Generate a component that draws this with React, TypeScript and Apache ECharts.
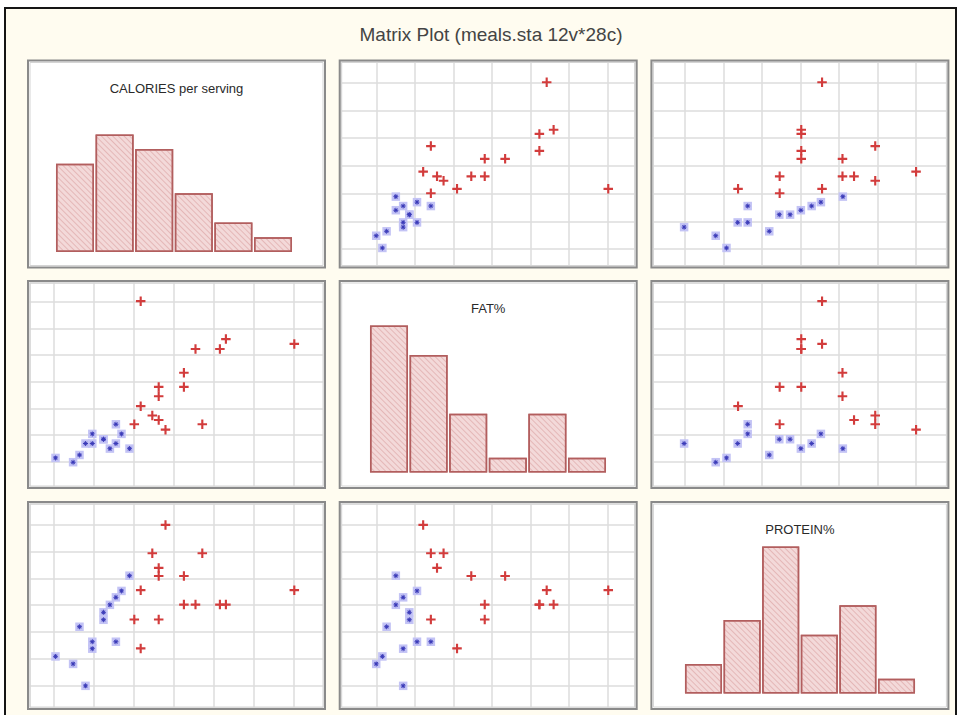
import React, { useEffect, useRef } from "react";
import * as echarts from "echarts";

const chartTitle = "Matrix Plot (meals.sta 12v*28c)";
const variableNames = ["CALORIES per serving", "FAT%", "PROTEIN%"];

// 28 cases, values (in axis grid units). Group "r" = red crosses, "b" = blue squares.
const calories = [3.17, 5.3, 4.54, 5.15, 7.01, 4.25, 3.62, 4.25, 3.62, 3.17, 3.46, 3.62, 3.01, 3.79, 4.71,
  2.89, 2.69, 2.55, 2.4, 2.24, 2.24, 2.55, 1.96, 1.96, 1.64, 1.79, 1.48, 1.04];
const fat = [7.02, 5.6, 5.23, 5.23, 5.42, 4.34, 3.81, 3.81, 3.46, 3.09, 2.74, 2.57, 2.41, 2.21, 2.41,
  1.5, 2.05, 1.69, 1.5, 1.85, 1.85, 2.41, 1.69, 2.05, 1.26, 1.69, 0.99, 1.15];
const protein = [4.56, 4.02, 4.02, 4.02, 4.56, 5.09, 3.46, 4.02, 5.09, 2.38, 5.94, 5.39, 3.46, 7.0, 5.94,
  5.1, 4.53, 4.29, 4.01, 3.73, 3.45, 2.63, 2.37, 2.63, 3.19, 0.98, 1.8, 2.08];
const groups = ["r", "r", "r", "r", "r", "r", "r", "r", "r", "r", "r", "r", "r", "r", "r",
  "b", "b", "b", "b", "b", "b", "b", "b", "b", "b", "b", "b", "b"];

// histogram counts (6 bins each)
const binLabels = ["1", "2", "3", "4", "5", "6"];
const calorieCounts = [6, 8, 7, 4, 2, 1];
const fatCounts = [10, 8, 4, 1, 4, 1];
const proteinCounts = [2, 5, 10, 4, 6, 1];

// axis extents per variable (grid units)
const axisRanges = [
  [0.39, 7.74],
  [0.08, 7.72],
  [0.17, 7.8],
];

// layout
const colLeft = [29.5, 341.2, 652.9];
const rowTop = [62, 282.5, 503.5];
const plotW = 294;
const plotH = 204;
const histLeft = [55.2, 369.2, 684.2];
const histWidth = [237.6, 237.6, 231.6];
const histBottomOffset = 190;
const histMax = 10;
const histUnit = 14.7;

const plusPath = "path://M3.1,0H4.9V3.1H8V4.9H4.9V8H3.1V4.9H0V3.1H3.1Z";
const starPath = "path://M3.3,0H4.7V2.3L6.3,0.7L7.3,1.7L5.7,3.3H8V4.7H5.7L7.3,6.3L6.3,7.3L4.7,5.7V8H3.3V5.7L1.7,7.3L0.7,6.3L2.3,4.7H0V3.3H2.3L0.7,1.7L1.7,0.7L3.3,2.3Z";

export default function App() {
  const ref = useRef<HTMLDivElement>(null);

  useEffect(() => {
    if (!ref.current) return;
    const chart = echarts.init(ref.current, null, { renderer: "svg" });
    const vars = [calories, fat, protein];
    const counts = [calorieCounts, fatCounts, proteinCounts];
    const grid: any[] = [];
    const xAxis: any[] = [];
    const yAxis: any[] = [];
    const series: any[] = [];
    const graphic: any[] = [];

    graphic.push({
      type: "rect",
      z: -20,
      shape: { x: 5, y: 8, width: 951, height: 730 },
      style: { fill: "#fffcf0", stroke: "#151515", lineWidth: 2 },
    });
    graphic.push({
      type: "text",
      z: 50,
      x: 491,
      y: 34,
      style: {
        text: chartTitle,
        fontSize: 19,
        fontFamily: "Liberation Sans, Arial, sans-serif",
        fill: "#444444",
        align: "center",
        verticalAlign: "middle",
      },
    });

    const valueAxis = (range: number[], idx: number) => ({
      type: "value",
      gridIndex: idx,
      min: range[0],
      max: range[1],
      splitNumber: 7,
      axisLine: { show: false },
      axisTick: { show: false },
      axisLabel: { show: false },
      splitLine: { show: true, lineStyle: { color: "#dcdcdc", width: 1.5 } },
    });

    for (let r = 0; r < 3; r++) {
      for (let c = 0; c < 3; c++) {
        const idx = r * 3 + c;
        const bx = colLeft[c] - 1.5;
        const by = rowTop[r] - 1.5;
        graphic.push({
          type: "rect",
          z: -10,
          shape: { x: bx, y: by, width: plotW + 3, height: plotH + 3 },
          style: { fill: "#ffffff" },
        });
        graphic.push({
          type: "rect",
          z: 60,
          shape: { x: bx, y: by, width: plotW + 3, height: plotH + 3 },
          style: { fill: "none", stroke: "#8a8a8a", lineWidth: 2 },
        });
        graphic.push({
          type: "rect",
          z: 60,
          shape: { x: bx + 2, y: by + 2, width: plotW - 1, height: plotH - 1 },
          style: { fill: "none", stroke: "#d4d4d4", lineWidth: 1 },
        });

        if (r === c) {
          const bottom = rowTop[r] + histBottomOffset;
          const h = histMax * histUnit;
          grid.push({ left: histLeft[c], top: bottom - h, width: histWidth[c], height: h });
          xAxis.push({ type: "category", gridIndex: idx, data: binLabels, show: false });
          yAxis.push({ type: "value", gridIndex: idx, min: 0, max: histMax, show: false });
          series.push({
            type: "bar",
            xAxisIndex: idx,
            yAxisIndex: idx,
            data: counts[r],
            barCategoryGap: "4%",
            itemStyle: {
              color: "#f3d9d9",
              borderColor: "#b25e5e",
              borderWidth: 1.5,
              decal: {
                symbol: "rect",
                symbolSize: 1,
                dashArrayX: [1, 0],
                dashArrayY: [1, 2.2],
                rotation: Math.PI / 4,
                color: "rgba(200,120,120,0.35)",
              },
            },
          });
          graphic.push({
            type: "text",
            z: 50,
            x: colLeft[c] + plotW / 2,
            y: rowTop[r] + 26,
            style: {
              text: variableNames[r],
              fontSize: 13,
              fontFamily: "Liberation Sans, Arial, sans-serif",
              fill: "#2a2a2a",
              align: "center",
              verticalAlign: "middle",
            },
          });
        } else {
          grid.push({ left: colLeft[c], top: rowTop[r], width: plotW, height: plotH });
          xAxis.push(valueAxis(axisRanges[c], idx));
          yAxis.push(valueAxis(axisRanges[r], idx));
          const red: number[][] = [];
          const blue: number[][] = [];
          for (let i = 0; i < groups.length; i++) {
            (groups[i] === "r" ? red : blue).push([vars[c][i], vars[r][i]]);
          }
          series.push({
            type: "scatter",
            xAxisIndex: idx,
            yAxisIndex: idx,
            data: blue,
            symbol: "rect",
            symbolSize: 8.5,
            itemStyle: { color: "#c3c3f5", opacity: 1 },
          });
          series.push({
            type: "scatter",
            xAxisIndex: idx,
            yAxisIndex: idx,
            data: blue,
            symbol: starPath,
            symbolSize: 5,
            itemStyle: { color: "#3b3bb8", opacity: 1 },
          });
          series.push({
            type: "scatter",
            xAxisIndex: idx,
            yAxisIndex: idx,
            data: red,
            symbol: plusPath,
            symbolSize: 9.5,
            itemStyle: { color: "#d23c3c", opacity: 1 },
          });
        }
      }
    }

    chart.setOption({
      animation: false,
      backgroundColor: "#ffffff",
      grid,
      xAxis,
      yAxis,
      series,
      graphic,
    });

    return () => chart.dispose();
  }, []);

  return (
    <div
      ref={ref}
      style={{ position: "absolute", left: 0, top: 0, width: 962, height: 715 }}
    />
  );
}
